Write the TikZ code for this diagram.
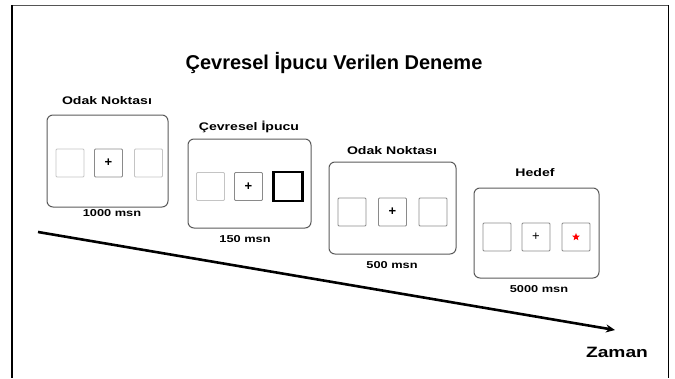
\documentclass[tikz,border=0pt]{standalone}
\usepackage{fontspec}
\setmainfont{Liberation Sans}
\newfontfamily\widefont[FakeStretch=1.28]{Liberation Sans}
\usetikzlibrary{shapes.geometric,arrows.meta}
\definecolor{framegray}{HTML}{555555}
\definecolor{lightsq}{HTML}{C4C4C4}
\definecolor{midsq}{HTML}{8A8A8A}
\definecolor{panelgray}{HTML}{5A5A5A}
\tikzset{
  panel/.style={draw=panelgray, line width=1pt, rounded corners=6pt, minimum width=#1, minimum height=90pt, inner sep=0pt},
  sq/.style={draw=#1, line width=0.8pt, rounded corners=1pt, minimum size=28pt, inner sep=0pt, font=\bfseries\fontsize{13}{13}\selectfont},
  lbl/.style={font=\widefont\bfseries\fontsize{11}{11}\selectfont, inner sep=0pt},
  dur/.style={font=\widefont\bfseries\fontsize{10}{10}\selectfont, inner sep=0pt},
}
\begin{document}
\begin{tikzpicture}[x=1pt,y=-1pt]
\useasboundingbox (0,0) rectangle (675,378);
% frame
\draw[framegray, line width=1.6pt] (11,5.5) -- (668.5,5.5);
\draw[black, line width=2pt] (11.5,5) -- (11.5,378);
\draw[black, line width=1.6pt] (668.5,5) -- (668.5,378);
% title
\node[font=\bfseries\fontsize{20}{20}\selectfont, inner sep=0pt, anchor=base] (title) at (334,69.5) {Çevresel İpucu Verilen Deneme};
% panel 1
\node[panel=121pt, minimum height=92pt] (p1) at (107.5,161) {};
\node[lbl] (l1) at (107,101) {Odak Noktası};
\node[dur] (d1) at (112,213) {1000 msn};
\node[sq=lightsq] (p1a) at (70,163) {};
\node[sq=midsq] (p1b) at (108.5,163) {+};
\node[sq=lightsq] (p1c) at (148.5,163) {};
% panel 2
\node[panel=123pt, minimum height=89pt] (p2) at (249.5,183.5) {};
\node[lbl] (l2) at (249,127) {Çevresel İpucu};
\node[dur] (d2) at (245,239) {150 msn};
\node[sq=lightsq] (p2a) at (210.5,186.5) {};
\node[sq=midsq] (p2b) at (248.5,186.5) {+};
\node[draw=black, line width=2.8pt, minimum size=29pt, inner sep=0pt] (p2c) at (288,186.5) {};
% panel 3
\node[panel=127pt, minimum height=92pt] (p3) at (392.5,208) {};
\node[lbl] (l3) at (392,151) {Odak Noktası};
\node[dur] (d3) at (392,265) {500 msn};
\node[sq=midsq] (p3a) at (352,212) {};
\node[sq=midsq] (p3b) at (392.5,212) {+};
\node[sq=midsq] (p3c) at (433,212) {};
% panel 4
\node[panel=125pt, minimum height=90pt] (p4) at (536.5,233) {};
\node[lbl] (l4) at (535,173) {Hedef};
\node[dur] (d4) at (539,289) {5000 msn};
\node[sq=midsq] (p4a) at (497,237) {};
\node[sq=midsq, font=\fontsize{13}{13}\selectfont] (p4b) at (536,237) {+};
\node[sq=midsq] (p4c) at (576,237) {};
\node[star, star points=5, star point ratio=2.3, fill=red, draw=none, minimum size=8pt, inner sep=0pt] (tgt) at (p4c.center) {};
% time arrow
\coordinate (ts) at (38,232);
\coordinate (te) at (615,330);
\draw[line width=2.6pt, -{Stealth[length=9pt,width=8pt]}] (ts) -- (te);
\node[font=\widefont\bfseries\fontsize{15}{15}\selectfont, inner sep=0pt] (zaman) at (617,352) {Zaman};
\end{tikzpicture}
\end{document}
